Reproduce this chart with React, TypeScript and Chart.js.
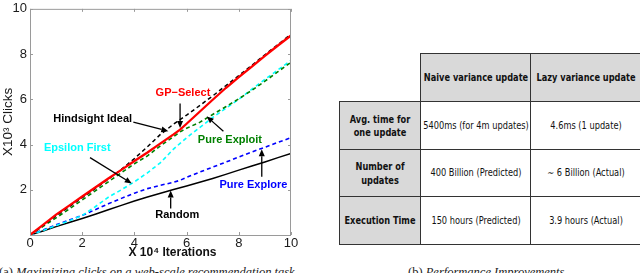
import React, { useEffect, useRef } from "react";
import { Chart, registerables } from "chart.js";

Chart.register(...registerables);

// ---- data (y values in thousands of clicks, x in 10^4 iterations) ----
const ITERATIONS = [0, 0.5, 1, 1.5, 2, 2.5, 3, 3.5, 4, 4.5, 5, 5.5, 5.75, 6, 6.5, 7, 7.5, 8, 8.5, 9, 9.5, 10];
const GP_SELECT = [0, 0.45, 0.9, 1.3, 1.7, 2.1, 2.5, 2.88, 3.27, 3.65, 4.05, 4.45, 4.66, 4.92, 5.45, 5.98, 6.5, 6.98, 7.45, 7.92, 8.38, 8.82];
const HINDSIGHT_IDEAL = [0, 0.42, 0.85, 1.25, 1.65, 2.05, 2.47, 2.9, 3.38, 3.9, 4.45, 4.9, 5.1, 5.3, 5.72, 6.15, 6.6, 7.05, 7.5, 7.97, 8.42, 8.88];
const PURE_EXPLOIT = [0, 0.38, 0.76, 1.15, 1.55, 1.95, 2.35, 2.75, 3.15, 3.5, 3.95, 4.35, 4.56, 4.72, 4.98, 5.33, 5.67, 6.02, 6.4, 6.8, 7.22, 7.64];
const EPSILON_FIRST = [0, 0.2, 0.42, 0.63, 0.86, 1.25, 1.67, 2.0, 2.35, 2.75, 3.2, 3.8, 4.05, 4.3, 4.75, 5.2, 5.6, 6.0, 6.45, 6.88, 7.3, 7.72];
const PURE_EXPLORE = [0, 0.22, 0.45, 0.66, 0.87, 1.12, 1.38, 1.62, 1.85, 2.05, 2.2, 2.33, 2.42, 2.55, 2.78, 3.0, 3.22, 3.45, 3.67, 3.88, 4.1, 4.3];
const RANDOM = [0, 0.18, 0.37, 0.55, 0.73, 0.92, 1.12, 1.31, 1.5, 1.68, 1.85, 2.01, 2.09, 2.17, 2.33, 2.5, 2.68, 2.87, 3.05, 3.23, 3.42, 3.6];

const X_MIN = 0;
const X_MAX = 10;
const Y_MIN = 0;
const Y_MAX = 10;
const TICK_STEP = 2;

const Y_TITLE = "X10³ Clicks";
const X_TITLE = "X 10⁴ Iterations";

// annotation labels: text centre and arrow (from -> to), all in data coordinates
const LABELS = ["GP−Select", "Hindsight Ideal", "Pure Exploit", "Epsilon First", "Pure Explore", "Random"];
const LABEL_COLORS = ["#ff0000", "#000000", "#008000", "#00ffff", "#0000ff", "#000000"];
const LABEL_POS = [[5.86, 6.3], [2.4, 5.14], [7.66, 4.22], [1.81, 3.86], [8.56, 2.21], [5.64, 0.87]];
const ARROW_FROM = [[5.75, 5.82], [3.96, 4.99], [7.41, 4.59], [2.3, 3.42], [8.88, 2.58], [5.39, 1.17]];
const ARROW_TO = [[5.75, 4.73], [5.3, 4.59], [6.77, 5.24], [3.9, 2.28], [8.88, 3.79], [5.39, 1.97]];

// table
const TABLE_HEAD = ["", "Naive variance update", "Lazy variance update"];
const TABLE_ROWS = [
  ["Avg. time for\none update", "5400ms (for 4m updates)", "4.6ms (1 update)"],
  ["Number of\nupdates", "400 Billion (Predicted)", "∼ 6 Billion (Actual)"],
  ["Execution Time", "150 hours (Predicted)", "3.9 hours (Actual)"],
];

const CAPTION_A_TAG = "(a)";
const CAPTION_A = "Maximizing clicks on a web-scale recommendation task";
const CAPTION_B_TAG = "(b)";
const CAPTION_B = "Performance Improvements";

const pts = (ys: number[]) => ITERATIONS.map((x, i) => ({ x, y: ys[i] }));

const decorPlugin = {
  id: "matlabDecor",
  afterDatasetsDraw(chart: any) {
    const { ctx, chartArea: a, scales } = chart;
    const xs = scales.x;
    const ys = scales.y;
    ctx.save();
    // box
    ctx.strokeStyle = "#9a9a9a";
    ctx.lineWidth = 1;
    ctx.strokeRect(a.left + 0.5, a.top + 0.5, a.right - a.left - 1, a.bottom - a.top);
    // inward ticks on all four sides
    const tl = 3;
    ctx.beginPath();
    xs.ticks.forEach((t: any) => {
      const px = Math.round(xs.getPixelForValue(t.value)) + 0.5;
      ctx.moveTo(px, a.bottom);
      ctx.lineTo(px, a.bottom - tl);
      ctx.moveTo(px, a.top);
      ctx.lineTo(px, a.top + tl);
    });
    ys.ticks.forEach((t: any) => {
      const py = Math.round(ys.getPixelForValue(t.value)) + 0.5;
      ctx.moveTo(a.left, py);
      ctx.lineTo(a.left + tl, py);
      ctx.moveTo(a.right, py);
      ctx.lineTo(a.right - tl, py);
    });
    ctx.stroke();

    // arrows
    ctx.strokeStyle = "#000";
    ctx.fillStyle = "#000";
    ctx.lineWidth = 1.3;
    for (let i = 0; i < LABELS.length; i++) {
      const x1 = xs.getPixelForValue(ARROW_FROM[i][0]);
      const y1 = ys.getPixelForValue(ARROW_FROM[i][1]);
      const x2 = xs.getPixelForValue(ARROW_TO[i][0]);
      const y2 = ys.getPixelForValue(ARROW_TO[i][1]);
      const ang = Math.atan2(y2 - y1, x2 - x1);
      const hl = 7;
      const hw = 3;
      const bx = x2 - hl * Math.cos(ang);
      const by = y2 - hl * Math.sin(ang);
      ctx.beginPath();
      ctx.moveTo(x1, y1);
      ctx.lineTo(bx, by);
      ctx.stroke();
      ctx.beginPath();
      ctx.moveTo(x2, y2);
      ctx.lineTo(bx + hw * Math.sin(ang), by - hw * Math.cos(ang));
      ctx.lineTo(bx - hw * Math.sin(ang), by + hw * Math.cos(ang));
      ctx.closePath();
      ctx.fill();
    }
    // labels
    ctx.font = "bold 11px 'Liberation Sans', Arial, sans-serif";
    ctx.textAlign = "center";
    ctx.textBaseline = "middle";
    for (let i = 0; i < LABELS.length; i++) {
      ctx.fillStyle = LABEL_COLORS[i];
      ctx.fillText(LABELS[i], xs.getPixelForValue(LABEL_POS[i][0]), ys.getPixelForValue(LABEL_POS[i][1]));
    }
    // x title
    ctx.fillStyle = "#111";
    ctx.font = "bold 12px 'Liberation Sans', Arial, sans-serif";
    ctx.fillText(X_TITLE, (a.left + a.right) / 2 + 12, a.bottom + 18);
    ctx.restore();
  },
};

function ChartPanel() {
  const ref = useRef<HTMLCanvasElement | null>(null);
  useEffect(() => {
    if (!ref.current) return;
    const series = [
      { label: "GP-Select", data: GP_SELECT, color: "#ff0000", width: 2.3, dash: [] as number[] },
      { label: "Hindsight Ideal", data: HINDSIGHT_IDEAL, color: "#000000", width: 1.5, dash: [4, 3] },
      { label: "Pure Exploit", data: PURE_EXPLOIT, color: "#008000", width: 1.6, dash: [4, 3] },
      { label: "Epsilon First", data: EPSILON_FIRST, color: "#00ffff", width: 1.6, dash: [4, 3] },
      { label: "Pure Explore", data: PURE_EXPLORE, color: "#0000ff", width: 1.6, dash: [4, 3] },
      { label: "Random", data: RANDOM, color: "#000000", width: 1.5, dash: [] as number[] },
    ];
    const chart = new Chart(ref.current, {
      type: "line",
      data: {
        datasets: series.map((s) => ({
          label: s.label,
          data: pts(s.data),
          borderColor: s.color,
          backgroundColor: s.color,
          borderWidth: s.width,
          borderDash: s.dash,
          pointRadius: 0,
          tension: 0,
          fill: false,
        })),
      },
      options: {
        animation: false,
        responsive: false,
        devicePixelRatio: 1,
        layout: { padding: { top: 6, right: 48, left: 0, bottom: 0 } },
        plugins: { legend: { display: false }, tooltip: { enabled: false } },
        scales: {
          x: {
            type: "linear",
            min: X_MIN,
            max: X_MAX,
            grid: { display: false, drawTicks: false },
            border: { display: false },
            ticks: {
              stepSize: TICK_STEP,
              maxRotation: 0,
              autoSkip: false,
              padding: 1,
              color: "#1a1a1a",
              font: { family: "'Liberation Sans', Arial, sans-serif", size: 13 },
            },
            afterFit: (s: any) => {
              s.height = 26;
            },
          },
          y: {
            type: "linear",
            min: Y_MIN,
            max: Y_MAX,
            grid: { display: false, drawTicks: false },
            border: { display: false },
            ticks: {
              stepSize: TICK_STEP,
              padding: 3,
              color: "#1a1a1a",
              font: { family: "'Liberation Sans', Arial, sans-serif", size: 13, lineHeight: 0.9 },
              callback: (v: any) => (v === 0 ? "" : String(v)),
            },
            title: {
              display: true,
              text: Y_TITLE,
              color: "#1a1a1a",
              padding: 0,
              font: { family: "'Liberation Sans', Arial, sans-serif", size: 13.5 },
            },
            afterFit: (s: any) => {
              s.width = 30;
            },
          },
        },
      },
      plugins: [decorPlugin],
    });
    return () => chart.destroy();
  }, []);
  return (
    <canvas
      ref={ref}
      width={339}
      height={261}
      style={{ position: "absolute", left: 0, top: 0, width: 339, height: 261 }}
    />
  );
}

const cellBorder = "1.6px solid #333";
const tableFont = "'DejaVu Sans', sans-serif";

function CellText({ text }: { text: string }) {
  return (
    <span
      style={{
        position: "absolute",
        left: "50%",
        top: "50%",
        whiteSpace: "pre",
        textAlign: "center",
        transform: "translate(-50%, -50%) scaleX(0.8)",
        lineHeight: "13.5px",
      }}
    >
      {text}
    </span>
  );
}

export default function App() {
  const colW = [81, 110, 110];
  const rowH = [48, 48, 47, 48];
  return (
    <div
      style={{
        position: "fixed",
        left: 0,
        top: 0,
        width: 640,
        height: 273,
        overflow: "hidden",
        background: "#fff",
      }}
    >
      <ChartPanel />
      <table
        style={{
          position: "absolute",
          left: 339,
          top: 53,
          borderCollapse: "collapse",
          tableLayout: "fixed",
          width: 301,
          fontFamily: tableFont,
          fontSize: 10.3,
          color: "#111",
        }}
      >
        <colgroup>
          {colW.map((w, i) => (
            <col key={i} style={{ width: w }} />
          ))}
        </colgroup>
        <tbody>
          <tr style={{ height: rowH[0] }}>
            {TABLE_HEAD.map((h, i) => (
              <td
                key={i}
                style={{
                  position: "relative",
                  border: i === 0 ? "none" : cellBorder,
                  background: i === 0 ? "#fff" : "#d9d9d9",
                  fontWeight: "bold",
                  padding: 0,
                }}
              >
                <CellText text={h} />
              </td>
            ))}
          </tr>
          {TABLE_ROWS.map((r, ri) => (
            <tr key={ri} style={{ height: rowH[ri + 1] }}>
              {r.map((c, ci) => (
                <td
                  key={ci}
                  style={{
                    position: "relative",
                    border: cellBorder,
                    background: ci === 0 ? "#d9d9d9" : "#fff",
                    fontWeight: ci === 0 ? "bold" : "normal",
                    padding: 0,
                  }}
                >
                  <CellText text={c} />
                </td>
              ))}
            </tr>
          ))}
        </tbody>
      </table>
      <div
        style={{
          position: "absolute",
          left: -1,
          top: 265,
          fontFamily: "'Liberation Serif', serif",
          fontSize: 12.5,
          lineHeight: "14px",
          whiteSpace: "nowrap",
          color: "#222",
        }}
      >
        {CAPTION_A_TAG} <i>{CAPTION_A}</i>
      </div>
      <div
        style={{
          position: "absolute",
          left: 408,
          top: 265,
          fontFamily: "'Liberation Serif', serif",
          fontSize: 12.5,
          lineHeight: "14px",
          whiteSpace: "nowrap",
          color: "#222",
        }}
      >
        {CAPTION_B_TAG} <i>{CAPTION_B}</i>
      </div>
    </div>
  );
}
